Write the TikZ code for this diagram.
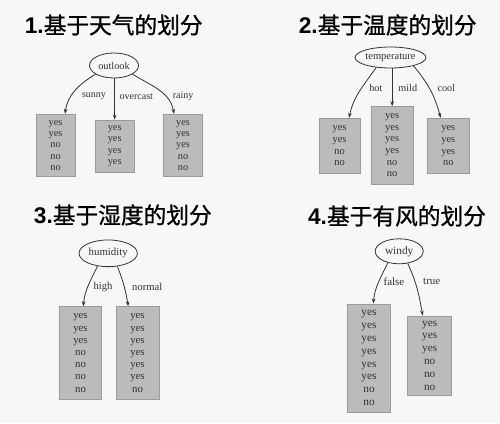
\documentclass[tikz,border=0pt]{standalone}
\usepackage{fontspec}
\setmainfont{Liberation Serif}
\newfontfamily\cjk[FakeBold=1]{Noto Sans CJK SC}
\newfontfamily\headnum{Liberation Sans}
\usetikzlibrary{shapes.geometric,arrows.meta}
\definecolor{bg}{HTML}{F7F7F7}
\definecolor{leaffill}{HTML}{BBBBBB}
\definecolor{leafline}{HTML}{9A9A9A}
\definecolor{ink}{HTML}{333333}

\begin{document}
\begin{tikzpicture}[x=1pt,y=1pt,->,>={Stealth[length=5pt,width=3.6pt]},
    line width=0.8pt, draw=ink,
    every node/.style={text=ink},
    title/.style={font=\fontsize{22.7}{26}\selectfont, text=black},
    attr/.style={shape=ellipse, draw=ink, inner sep=0pt},
    leaf/.style={draw=leafline, fill=leaffill, align=center, inner sep=0pt},
    lbl/.style={anchor=west, text=ink, inner sep=2pt}]
    \fill[bg] (0,0) rectangle (500,-423);
    \useasboundingbox (0,0) rectangle (500,-423);

    % 1. outlook
    \node[title] (t1) at (113.7,-25) {{\headnum\bfseries 1.}{\cjk 基于天气的划分}};
    \begin{scope}[every node/.append style={font=\fontsize{10.3}{11.3}\selectfont}]
    \node[attr, minimum width=49, minimum height=25] (outlook) at (114,-65.5) {outlook};
    \node[leaf, minimum width=39, minimum height=62.4] (sunny) at (55.5,-145.5) {yes\\yes\\no\\no\\no};
    \node[leaf, minimum width=39, minimum height=52.3] (overcast) at (114.7,-146.2) {yes\\yes\\yes\\yes};
    \node[leaf, minimum width=39, minimum height=62.4] (rainy) at (183,-145.5) {yes\\yes\\yes\\no\\no};
    \path[every node/.style={lbl, font=\fontsize{10}{12}\selectfont}]
        (outlook.205) edge[out=212,in=82] node[pos=0.65, xshift=8.8] {sunny} ([xshift=9.5]sunny.north)
        (overcast.north |- outlook.south) edge node[pos=0.45, xshift=2.6] {overcast} (overcast.north)
        (outlook.335) edge[out=-32,in=100] node[pos=0.67, xshift=4.5] {rainy} ([xshift=-9]rainy.north);
    \end{scope}

    % 2. temperature
    \node[title] (t2) at (387.7,-25) {{\headnum\bfseries 2.}{\cjk 基于温度的划分}};
    \begin{scope}[every node/.append style={font=\fontsize{10.5}{11.7}\selectfont}]
    \node[attr, minimum width=69, minimum height=21] (temperature) at (390.5,-57.5) {temperature};
    \node[leaf, minimum width=41, minimum height=55] (hot) at (339.5,-145.8) {yes\\yes\\no\\no};
    \node[leaf, minimum width=42, minimum height=77.3] (mild) at (392.2,-145.3) {yes\\yes\\yes\\yes\\no\\no};
    \node[leaf, minimum width=41.3, minimum height=55] (cool) at (448.3,-145.8) {yes\\yes\\yes\\no};
    \path[every node/.style={lbl, font=\fontsize{10.2}{12}\selectfont}]
        (temperature.215) edge[out=235,in=78] node[pos=0.43, xshift=5.3] {hot} ([xshift=9.5]hot.north)
        (mild.north |- temperature.south) edge node[pos=0.525, xshift=3.8] {mild} (mild.north)
        (temperature.340) edge[out=-50,in=105] node[pos=0.46, xshift=5.8] {cool} ([xshift=-7.6]cool.north);
    \end{scope}

    % 3. humidity
    \node[title] (t3) at (122.8,-215) {{\headnum\bfseries 3.}{\cjk 基于湿度的划分}};
    \begin{scope}[every node/.append style={font=\fontsize{10.8}{12.2}\selectfont}]
    \node[attr, minimum width=58.3, minimum height=26.7] (humidity) at (108.2,-253.3) {humidity};
    \node[leaf, minimum width=42.4, minimum height=92.6] (high) at (80.5,-353) {yes\\yes\\yes\\no\\no\\no\\no};
    \node[leaf, minimum width=43, minimum height=92.6] (normal) at (137.5,-353) {yes\\yes\\yes\\yes\\yes\\yes\\no};
    \path[every node/.style={lbl, font=\fontsize{10.6}{12}\selectfont}]
        (humidity.230) edge[out=245,in=85] node[pos=0.53, xshift=3.4] {high} ([xshift=2.8]high.north)
        (humidity.305) edge[out=-68,in=100] node[pos=0.53, xshift=5.5] {normal} ([xshift=-9.2]normal.north);
    \end{scope}

    % 4. windy
    \node[title] (t4) at (397,-216) {{\headnum\bfseries 4.}{\cjk 基于有风的划分}};
    \begin{scope}[every node/.append style={font=\fontsize{11.3}{12.8}\selectfont}]
    \node[attr, minimum width=48, minimum height=25] (windy) at (399.2,-251.3) {windy};
    \node[leaf, minimum width=43.4, minimum height=108] (false) at (369,-358) {yes\\yes\\yes\\yes\\yes\\yes\\no\\no};
    \node[leaf, minimum width=44, minimum height=79] (true) at (429.7,-355.5) {yes\\yes\\yes\\no\\no\\no};
    \path[every node/.style={lbl, font=\fontsize{11}{12}\selectfont}]
        (windy.225) edge[out=245,in=85] node[pos=0.47, xshift=2.3] {false} ([xshift=4.3]false.north)
        (windy.305) edge[out=-65,in=100] node[pos=0.35, xshift=5.8] {true} ([xshift=-7]true.north);
    \end{scope}
\end{tikzpicture}
\end{document}
